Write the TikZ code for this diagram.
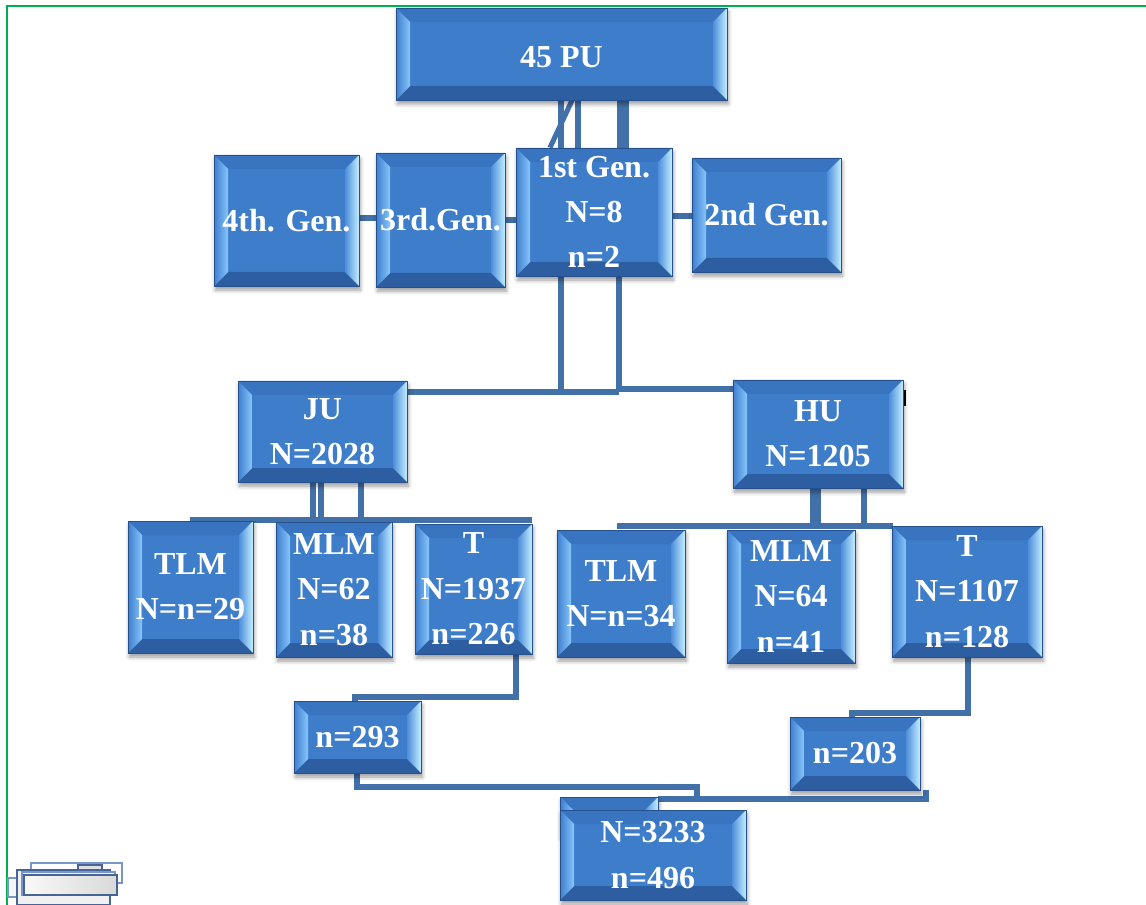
\documentclass[tikz,border=0pt]{standalone}
\usepackage{fontspec}
\setmainfont{Liberation Serif}
\usetikzlibrary{fit,shadows.blur}
\definecolor{boxface}{RGB}{61,125,202}
\definecolor{boxedge}{RGB}{38,80,140}
\definecolor{bevtop}{RGB}{57,116,192}
\definecolor{bevbot}{RGB}{45,94,162}
\definecolor{bevlin}{RGB}{135,198,250}
\definecolor{bevlout}{RGB}{62,126,206}
\definecolor{bevrin}{RGB}{78,142,218}
\definecolor{bevrout}{RGB}{195,238,255}
\definecolor{connc}{RGB}{66,112,168}
\definecolor{framec}{RGB}{0,176,80}
\definecolor{artb}{RGB}{70,100,150}
\definecolor{artl}{RGB}{120,150,200}
\newcommand\bevw{10.5pt}
\pgfdeclarelayer{bg}
\pgfsetlayers{bg,main}
\tikzset{
 bevbox/.style={draw=boxedge, line width=0.6pt, fill=boxface, inner sep=0pt,
   blur shadow={shadow xshift=1pt, shadow yshift=-3pt, shadow blur radius=3pt, shadow opacity=40},
   path picture={
     \path (path picture bounding box.north west) coordinate (bvA)
           (path picture bounding box.north east) coordinate (bvB)
           (path picture bounding box.south east) coordinate (bvC)
           (path picture bounding box.south west) coordinate (bvD);
     \path ([shift={(\bevw,-\bevw)}]bvA) coordinate (bva)
           ([shift={(-\bevw,-\bevw)}]bvB) coordinate (bvb)
           ([shift={(-\bevw,\bevw)}]bvC) coordinate (bvc)
           ([shift={(\bevw,\bevw)}]bvD) coordinate (bvd);
     \fill[bevtop] (bvA) -- (bvB) -- (bvb) -- (bva) -- cycle;
     \fill[bevbot] (bvD) -- (bvC) -- (bvc) -- (bvd) -- cycle;
     \shade[left color=bevlout, right color=bevlin] (bvA) -- (bva) -- (bvd) -- (bvD) -- cycle;
     \shade[left color=bevrin, right color=bevrout] (bvB) -- (bvb) -- (bvc) -- (bvC) -- cycle;
   }},
 btxt/.style={text=white, font=\bfseries\fontsize{24}{34}\selectfont, align=center, inner sep=0pt},
 conn/.style={draw=connc, line width=3.8pt},
 artbox/.style={draw=artb, line width=0.8pt, fill=gray!12},
}
\begin{document}
\begin{tikzpicture}[x=0.75pt,y=-0.75pt]
\useasboundingbox (0,0) rectangle (1146,905);

% boxes
\node[bevbox, fit={(396,8) (727,100)}] (pu) {};
\node[bevbox, fit={(516,148) (672,276)}] (g1) {};
\node[bevbox, fit={(376,153) (505,287)}] (g3) {};
\node[bevbox, fit={(214,155) (359,286)}] (g4) {};
\node[bevbox, fit={(692,158) (841,272)}] (g2) {};
\node[bevbox, fit={(238,381) (407,482)}] (ju) {};
\node[bevbox, fit={(733,380) (903,488)}] (hu) {};
\node[bevbox, fit={(128,521) (253,653)}] (tlmL) {};
\node[bevbox, fit={(276,522) (392,657)}] (mlmL) {};
\node[bevbox, fit={(415,524) (532,654)}] (tL) {};
\node[bevbox, fit={(557,530) (685,657)}] (tlmR) {};
\node[bevbox, fit={(727,530) (855,663)}] (mlmR) {};
\node[bevbox, fit={(892,526) (1042,657)}] (tR) {};
\node[bevbox, fit={(294,701) (421,773)}] (n293) {};
\node[bevbox, fit={(790,717) (920,790)}] (n203) {};
\node[bevbox, fit={(560,797) (658,835)}] (back) {};
\node[bevbox, fit={(560,810) (746,900)}] (tot) {};

% texts
\node[btxt] (pu-t) at ([yshift=-2pt]pu.center) {45 PU};
\node[btxt] (g1-t) at (g1.center) {1st Gen.\\N=8\\n=2};
\node[btxt] (g3-t) at (g3.center) {3rd.Gen.};
\node[btxt] (g4-t) at (g4.center) {4th. Gen.};
\node[btxt] (g2-t) at (g2.center) {2nd Gen.};
\node[btxt] (ju-t) at (ju.center) {JU\\N=2028};
\node[btxt] (hu-t) at (hu.center) {HU\\N=1205};
\node[btxt] (tlmL-t) at (tlmL.center) {TLM\\N=n=29};
\node[btxt] (mlmL-t) at (mlmL.center) {MLM\\N=62\\n=38};
\node[btxt] (tL-t) at (tL.center) {T\\N=1937\\n=226};
\node[btxt] (tlmR-t) at (tlmR.center) {TLM\\N=n=34};
\node[btxt] (mlmR-t) at (mlmR.center) {MLM\\N=64\\n=41};
\node[btxt] (tR-t) at (tR.center) {T\\N=1107\\n=128};
\node[btxt] (n293-t) at (n293.center) {n=293};
\node[btxt] (n203-t) at (n203.center) {n=203};
\node[btxt] (tot-t) at (tot.center) {N=3233\\n=496};

\begin{pgfonlayer}{bg}
% frame
\draw[framec, line width=1.5pt] (7,905) -- (7,6) -- (1146,6);
% 45 PU to 1st Gen
\draw[conn] (561,0 |- pu.south) -- (561,0 |- g1.north);
\draw[conn] (572,0 |- pu.south) -- (550,0 |- g1.north);
\draw[conn] (578,0 |- pu.south) -- (578,0 |- g1.north);
\draw[conn] (620,0 |- pu.south) -- (620,0 |- g1.north);
\draw[conn] (626,0 |- pu.south) -- (626,0 |- g1.north);
% generations
\draw[conn] (g4.east |- 0,218) -- (g3.west |- 0,218);
\draw[conn] (g3.west |- 0,220) -- (g1.west |- 0,220);
\draw[conn] (g1.east |- 0,216) -- (g2.west |- 0,216);
% 1st Gen to JU/HU
\draw[conn] (561,0 |- g1.south) -- (561,392);
\draw[conn] (619,0 |- g1.south) -- (619,392);
\draw[conn] (ju.east |- 0,392) -- (619,392);
\draw[conn] (619,389) -- (hu.west |- 0,389);
% JU children
\draw[conn] (313,0 |- ju.south) -- (313,520);
\draw[conn] (321,0 |- ju.south) -- (321,520);
\draw[conn] (361,0 |- ju.south) -- (361,520);
\draw[conn] (190,520) -- (tL.north east |- 0,520);
% HU children
\draw[conn] (813,0 |- hu.south) -- (813,526);
\draw[conn] (818,0 |- hu.south) -- (818,526);
\draw[conn] (864,0 |- hu.south) -- (864,526);
\draw[conn] (617,526) -- (893,526);
% T -> n=293
\draw[conn] (516,0 |- tL.south) -- (516,697) -- (355,697) -- (355,0 |- n293.north);
% T -> n=203
\draw[conn] (968,0 |- tR.south) -- (968,713) -- (852,713) -- (852,0 |- n203.north);
% to total
\draw[conn] (357,0 |- n293.south) -- (357,787) -- (697,787) -- (697,799);
\draw[conn] (back.east |- 0,799) -- (926,799) -- (926,0 |- n203.south);
\end{pgfonlayer}

% small mark beside HU
\draw[black, line width=1.5pt] (905,390) -- (905,406);

% bottom-left artefact
\draw[draw=artl, line width=0.8pt, fill=white] (31,863) rectangle (122,883);
\draw[draw=artb, line width=0.8pt, fill=gray!25] (78,865) rectangle (102,872);
\draw[draw=artl, line width=0.8pt, fill=gray!8] (8,878) rectangle (21,897);
\draw[artbox] (17,870) rectangle (110,905);
\draw[draw=artl, line width=0.8pt, fill=gray!10] (22,872) rectangle (115,895);
\draw[artbox, left color=gray!5, right color=gray!30] (24,875) rectangle (117,895);
\end{tikzpicture}
\end{document}
